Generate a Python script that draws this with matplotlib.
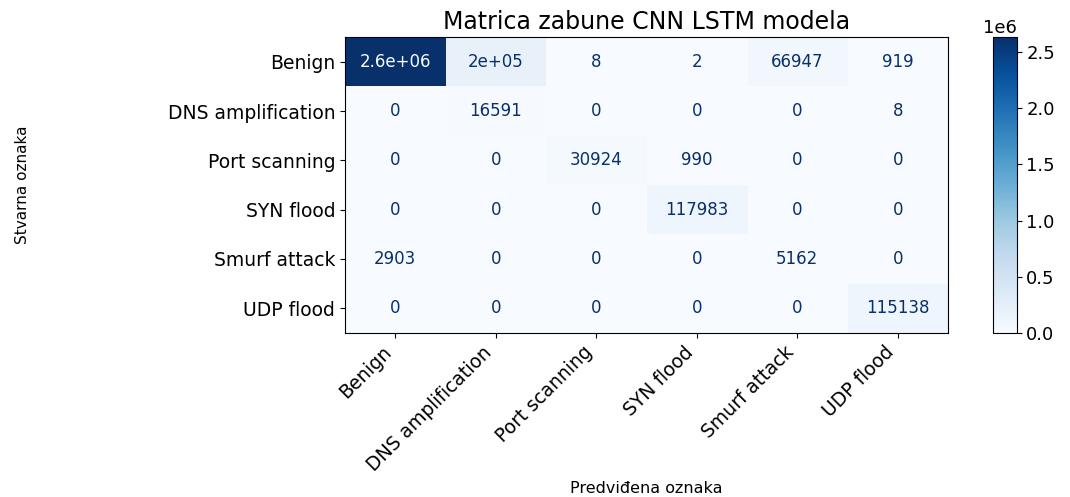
import matplotlib
matplotlib.use("Agg")
import matplotlib.pyplot as plt
import numpy as np

labels = ["Benign", "DNS amplification", "Port scanning",
          "SYN flood", "Smurf attack", "UDP flood"]
# rows = true label, cols = predicted label
cm = np.array([
    [2634000, 200000, 8, 2, 66947, 919],
    [0, 16591, 0, 0, 0, 8],
    [0, 0, 30924, 990, 0, 0],
    [0, 0, 0, 117983, 0, 0],
    [2903, 0, 0, 0, 5162, 0],
    [0, 0, 0, 0, 0, 115138],
])

title = "Matrica zabune CNN LSTM modela"
xlabel = "Predviđena oznaka"
ylabel = "Stvarna oznaka"

fig = plt.figure(figsize=(10.7, 4.97), dpi=100)
ax = fig.add_axes([0.3224, 0.330, 0.5636, 0.5955])
cax = fig.add_axes([0.928, 0.330, 0.022, 0.5955])

cmap = plt.cm.Blues
im = ax.imshow(cm, cmap=cmap, aspect="auto", interpolation="nearest")

# cell text, formatted like sklearn's ConfusionMatrixDisplay
thresh = (cm.max() + cm.min()) / 2.0
for i in range(cm.shape[0]):
    for j in range(cm.shape[1]):
        v = cm[i, j]
        s = format(v, ".2g")
        d = format(v, "d")
        if len(d) < len(s):
            s = d
        color = cmap(0.0) if v > thresh else cmap(1.0)
        ax.text(j, i, s, ha="center", va="center", color=color, fontsize=12)

n = len(labels)
ax.set_xticks(np.arange(n))
ax.set_yticks(np.arange(n))
ax.set_xticklabels(labels, rotation=45, ha="right", fontsize=13.5)
ax.set_yticklabels(labels, fontsize=13.5)
ax.set_xlim(-0.5, n - 0.5)
ax.set_ylim(n - 0.5, -0.5)

ax.set_title(title, fontsize=17, pad=6)
ax.set_xlabel(xlabel, fontsize=11.5, va="center")
ax.xaxis.set_label_coords(0.5, -0.525)
ax.set_ylabel(ylabel, fontsize=11, va="center",
              family=["Liberation Sans Narrow", "DejaVu Sans"])
ax.yaxis.set_label_coords(-0.535, 0.5)

cb = fig.colorbar(im, cax=cax)
cb.ax.tick_params(labelsize=13)
cb.ax.yaxis.get_offset_text().set_fontsize(13)

fig.savefig("out.png", dpi=100)
